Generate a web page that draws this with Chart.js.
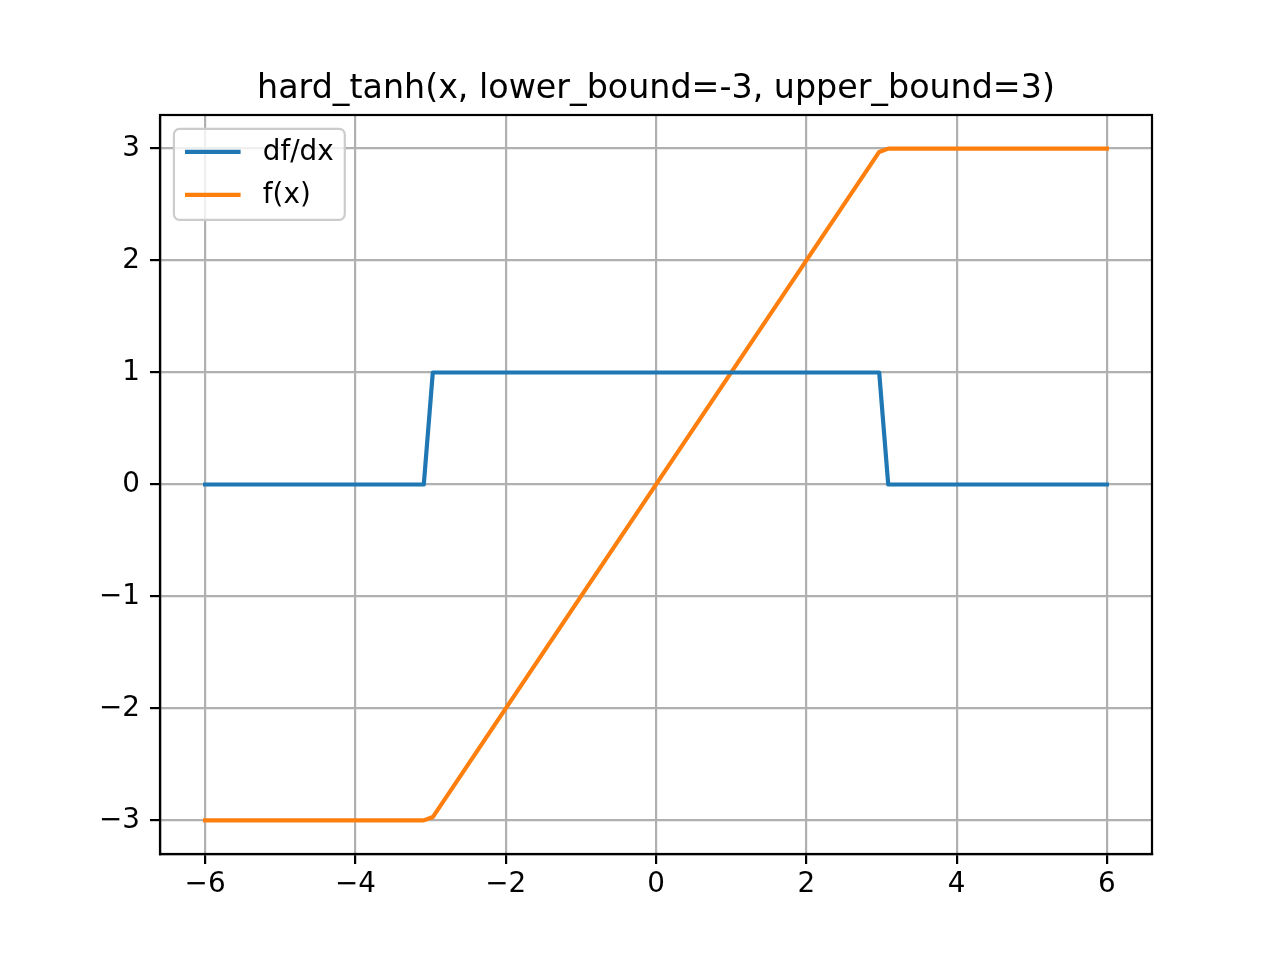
<!DOCTYPE html>
<html>
<head>
<meta charset="utf-8">
<script src="https://cdn.jsdelivr.net/npm/chart.js@4"></script>
<style>
html,body{margin:0;padding:0;background:#fff;}
#wrap{width:1280px;height:960px;position:relative;}
</style>
</head>
<body>
<div id="wrap"><canvas id="c" width="1280" height="960"></canvas></div>
<script>
// ---- data ----
const titleText = "hard_tanh(x, lower_bound=-3, upper_bound=3)";
const dfdxLabel = "df/dx";
const fxLabel = "f(x)";
const dfdxX = [-6, -3.09, -2.97, 2.97, 3.09, 6];
const dfdxY = [0, 0, 1, 1, 0, 0];
const fxX = [-6, -3.09, -2.97, 2.97, 3.09, 6];
const fxY = [-3, -3, -2.97, 2.97, 3, 3];
const xTicks = [-6, -4, -2, 0, 2, 4, 6];
const yTicks = [-3, -2, -1, 0, 1, 2, 3];

const FONT = "'DejaVu Sans', sans-serif";
const TICK_PX = 27.8;
const TITLE_PX = 33.3;
const LW = 4.17;
const GRID_LW = 2.2;

const fmt = v => (v < 0 ? '\u2212' + Math.abs(v) : String(v));

const frameTitleLegend = {
  id: 'frameTitleLegend',
  afterDatasetsDraw(chart) {
    const ctx = chart.ctx;
    const a = chart.chartArea;
    ctx.save();
    // spines
    ctx.strokeStyle = '#000';
    ctx.lineWidth = GRID_LW;
    ctx.strokeRect(a.left, a.top, a.right - a.left, a.bottom - a.top);
    // title
    ctx.fillStyle = '#000';
    ctx.font = TITLE_PX + 'px ' + FONT;
    ctx.textAlign = 'center';
    ctx.textBaseline = 'alphabetic';
    ctx.fillText(titleText, (a.left + a.right) / 2, a.top - 16.7);
    // legend
    ctx.font = TICK_PX + 'px ' + FONT;
    const ds = chart.data.datasets;
    const pad = 11.1, handle = 55.6, gap = 22.2, rowH = 43;
    let maxW = 0;
    ds.forEach(d => { maxW = Math.max(maxW, ctx.measureText(d.label).width); });
    const bx = a.left + 13.9, by = a.top + 13.9;
    const bw = pad + handle + gap + maxW + pad;
    const bh = 91;
    const r = 5.6;
    ctx.beginPath();
    ctx.roundRect(bx, by, bw, bh, r);
    ctx.fillStyle = 'rgba(255,255,255,0.8)';
    ctx.fill();
    ctx.strokeStyle = '#cccccc';
    ctx.lineWidth = 2.2;
    ctx.stroke();
    ds.forEach((d, i) => {
      const cy = by + 23 + i * rowH;
      ctx.beginPath();
      ctx.moveTo(bx + pad, cy);
      ctx.lineTo(bx + pad + handle, cy);
      ctx.strokeStyle = d.borderColor;
      ctx.lineWidth = LW;
      ctx.lineCap = 'butt';
      ctx.stroke();
      ctx.fillStyle = '#000';
      ctx.textAlign = 'left';
      ctx.textBaseline = 'middle';
      ctx.fillText(d.label, bx + pad + handle + gap, cy + 1);
    });
    ctx.restore();
  }
};

new Chart(document.getElementById('c'), {
  type: 'line',
  data: {
    datasets: [
      { label: dfdxLabel, data: dfdxX.map((x, i) => ({ x, y: dfdxY[i] })),
        borderColor: '#1f77b4', backgroundColor: '#1f77b4', borderWidth: LW,
        pointRadius: 0, tension: 0, borderCapStyle: 'square', borderJoinStyle: 'round', fill: false },
      { label: fxLabel, data: fxX.map((x, i) => ({ x, y: fxY[i] })),
        borderColor: '#ff7f0e', backgroundColor: '#ff7f0e', borderWidth: LW,
        pointRadius: 0, tension: 0, borderCapStyle: 'square', borderJoinStyle: 'round', fill: false }
    ]
  },
  options: {
    responsive: false,
    animation: false,
    devicePixelRatio: 1,
    layout: { padding: { left: 0, right: 128, top: 115, bottom: 0 } },
    plugins: { legend: { display: false }, title: { display: false }, tooltip: { enabled: false } },
    scales: {
      x: {
        type: 'linear', min: -6.6, max: 6.6,
        afterBuildTicks: s => { s.ticks = xTicks.map(v => ({ value: v })); },
        afterFit: s => { s.height = 106; },
        ticks: { callback: v => fmt(v), font: { family: FONT, size: TICK_PX }, color: '#000', padding: 4, maxRotation: 0, autoSkip: false },
        grid: { color: '#b0b0b0', lineWidth: GRID_LW, tickLength: 10, tickColor: '#000', tickWidth: GRID_LW, drawOnChartArea: true },
        border: { display: true, color: '#000', width: GRID_LW }
      },
      y: {
        type: 'linear', min: -3.3, max: 3.3,
        afterBuildTicks: s => { s.ticks = yTicks.map(v => ({ value: v })); },
        afterFit: s => { s.width = 160; },
        ticks: { callback: v => fmt(v), font: { family: FONT, size: TICK_PX }, color: '#000', padding: 10, autoSkip: false },
        grid: { color: '#b0b0b0', lineWidth: GRID_LW, tickLength: 10, tickColor: '#000', tickWidth: GRID_LW },
        border: { display: true, color: '#000', width: GRID_LW }
      }
    }
  },
  plugins: [frameTitleLegend]
});
</script>
</body>
</html>
